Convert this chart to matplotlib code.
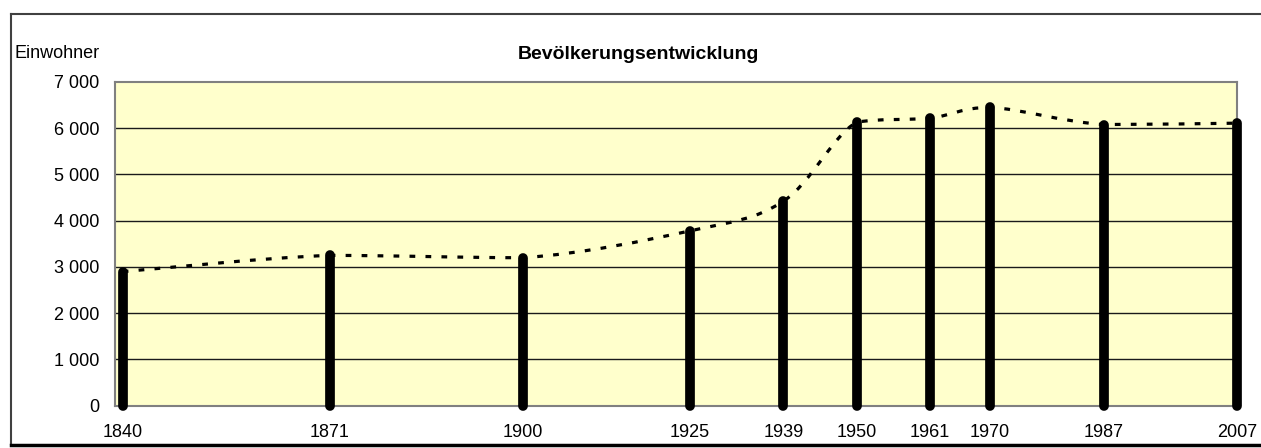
import matplotlib
matplotlib.use("Agg")
import matplotlib.pyplot as plt
from matplotlib.path import Path
from matplotlib.patches import PathPatch
from matplotlib.lines import Line2D
from matplotlib.ticker import FuncFormatter

# ---- data ----
years = [1840, 1871, 1900, 1925, 1939, 1950, 1961, 1970, 1987, 2007]
population = [2900, 3250, 3200, 3780, 4420, 6130, 6220, 6450, 6080, 6110]
y_ticks = [0, 1000, 2000, 3000, 4000, 5000, 6000, 7000]
title = "Bevölkerungsentwicklung"
y_label = "Einwohner"

plt.rcParams['font.family'] = ['Liberation Sans', 'DejaVu Sans']

W, H = 1261, 448
fig = plt.figure(figsize=(W / 100, H / 100), dpi=100)
fig.patch.set_facecolor('white')

# axes position in pixels
left, right, top, bottom = 115, 1237, 82, 405.7
ax = fig.add_axes([left / W, (H - bottom) / H, (right - left) / W, (bottom - top) / H])
ax.set_facecolor('#FFFFCC')

ax.set_xlim(1838.85, 2007)
ax.set_ylim(0, 7000)

# gridlines
for t in y_ticks[1:-1]:
    ax.axhline(t, color='#1a1a1a', lw=1.0, zorder=1)

# bars as thick rounded lines
bars = ax.vlines(years, 0, population, colors='black', lw=7, zorder=3, clip_on=False)
bars.set_capstyle('round')

# smoothed dashed line (Bezier segments via matplotlib Path, control points
# clamped to the segment's value range to avoid overshoot)
k = 1 / 6
pts = list(zip(years, population))
verts = [pts[0]]
codes = [Path.MOVETO]
n = len(pts)
for i in range(n - 1):
    p0 = pts[i - 1] if i > 0 else pts[i]
    p1 = pts[i]
    p2 = pts[i + 1]
    p3 = pts[i + 2] if i + 2 < n else pts[i + 1]
    lo, hi = min(p1[1], p2[1]), max(p1[1], p2[1])
    c1 = (p1[0] + (p2[0] - p0[0]) * k, min(max(p1[1] + (p2[1] - p0[1]) * k, lo), hi))
    c2 = (p2[0] - (p3[0] - p1[0]) * k, min(max(p2[1] - (p3[1] - p1[1]) * k, lo), hi))
    verts += [c1, c2, p2]
    codes += [Path.CURVE4] * 3
patch = PathPatch(Path(verts, codes), fill=False, edgecolor='black', lw=2.3,
                  linestyle=(0, (1.8, 3.2)), zorder=4, clip_on=False)
ax.add_patch(patch)

# spines
for s in ax.spines.values():
    s.set_color('#808080')
    s.set_linewidth(1.5)

ax.set_yticks(y_ticks)
ax.yaxis.set_major_formatter(FuncFormatter(lambda v, p: f"{int(v):,}".replace(",", " ")))
ax.set_xticks(years)
ax.set_xticklabels([str(y) for y in years])
ax.tick_params(axis='y', length=0, pad=11.5, labelsize=13)
ax.tick_params(axis='x', length=0, pad=13, labelsize=13)

# title and y label
fig.text(638 / W, (H - 59) / H, title, ha='center', va='baseline',
         fontsize=14, fontweight='bold')
fig.text(14 / W, (H - 58) / H, y_label, ha='left', va='baseline', fontsize=13)

# chart frame
fig.add_artist(Line2D([11 / W, 1.01], [(H - 14) / H, (H - 14) / H],
                      color='#404040', lw=1.5, transform=fig.transFigure))
fig.add_artist(Line2D([11 / W, 11 / W], [(H - 14) / H, (H - 444) / H],
                      color='#404040', lw=1.5, transform=fig.transFigure))
fig.add_artist(Line2D([11 / W, 1.01], [(H - 445) / H, (H - 445) / H],
                      color='black', lw=2.5, transform=fig.transFigure))

fig.savefig('out.png', dpi=100)
